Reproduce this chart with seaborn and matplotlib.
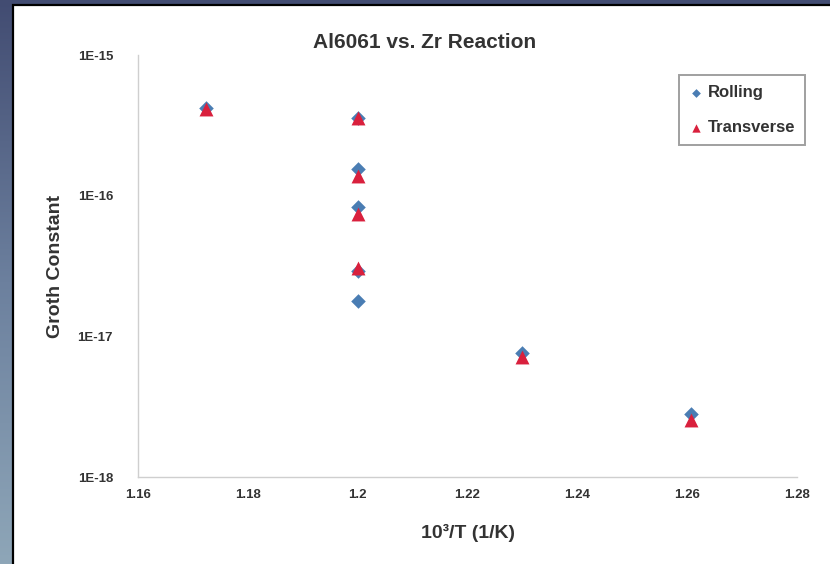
import numpy as np
import pandas as pd
import seaborn as sns
import matplotlib.pyplot as plt
from matplotlib.patches import Rectangle

# valores
rolling_x = [1.1724, 1.2, 1.2, 1.2, 1.2, 1.2, 1.23, 1.2607]
rolling_y = [4.2e-16, 3.55e-16, 1.56e-16, 8.3e-17, 2.9e-17, 1.78e-17, 7.6e-18, 2.8e-18]
transverse_x = [1.1724, 1.2, 1.2, 1.2, 1.2, 1.23, 1.2607]
transverse_y = [4.15e-16, 3.55e-16, 1.39e-16, 7.4e-17, 3.06e-17, 7.1e-18, 2.55e-18]

x_ticks = [1.16, 1.18, 1.20, 1.22, 1.24, 1.26, 1.28]
x_labels = ['1.16', '1.18', '1.2', '1.22', '1.24', '1.26', '1.28']
y_ticks = [1e-18, 1e-17, 1e-16, 1e-15]
y_labels = ['1E-18', '1E-17', '1E-16', '1E-15']

rolling = pd.DataFrame({'x': rolling_x, 'y': rolling_y, 'serie': 'Rolling'})
transverse = pd.DataFrame({'x': transverse_x, 'y': transverse_y, 'serie': 'Transverse'})

sns.set_style('white')
plt.rcParams['font.family'] = ['Liberation Sans', 'DejaVu Sans']

fig = plt.figure(figsize=(8.3, 5.64), dpi=100)

# fundo estilo slide
bg = fig.add_axes([0, 0, 1, 1], zorder=-2)
grad = np.linspace(0, 1, 256).reshape(-1, 1)
cmap = sns.blend_palette(['#424c72', '#6c809e', '#8ea6b8'], as_cmap=True)
bg.imshow(grad, aspect='auto', cmap=cmap, extent=[0, 1, 0, 1])
bg.set_axis_off()
fig.patches.append(Rectangle((13 / 830, -0.01), 1.0, 1 - 5 / 564 + 0.01,
                             transform=fig.transFigure, facecolor='white',
                             edgecolor='black', linewidth=1.6, zorder=-1))

ax = fig.add_axes([138 / 830, 1 - 477 / 564, (797 - 138) / 830, (477 - 55) / 564])
ax.patch.set_alpha(0)
sns.scatterplot(data=rolling, x='x', y='y', color='#4a7db3', marker='D',
                s=55, linewidth=0, label='Rolling', ax=ax)
sns.scatterplot(data=transverse, x='x', y='y', color='#d9203d', marker='^',
                s=100, linewidth=0, label='Transverse', ax=ax)

ax.set_yscale('log')
ax.set_xlim(1.16, 1.28)
ax.set_ylim(1e-18, 1e-15)
ax.set_xticks(x_ticks)
ax.set_xticklabels(x_labels, fontsize=9.5, fontweight='bold', color='#333333')
ax.set_yticks(y_ticks)
ax.set_yticklabels(y_labels, fontsize=9.5, fontweight='bold', color='#333333')
ax.minorticks_off()
ax.tick_params(direction='out', length=4, color='#c0c0c0', width=0.8)
ax.tick_params(axis='y', pad=14)
ax.tick_params(axis='x', pad=5)
for lado in ['top', 'right']:
    ax.spines[lado].set_visible(False)
for lado in ['left', 'bottom']:
    ax.spines[lado].set_color('#cfcfcf')
    ax.spines[lado].set_linewidth(1.0)

fig.text(425 / 830, 1 - 43 / 564, 'Al6061 vs. Zr Reaction', fontsize=15,
         fontweight='bold', color='#333333', ha='center', va='center')
ax.set_xlabel('10³/T (1/K)', fontsize=14, fontweight='bold', color='#333333', labelpad=16)
ax.set_ylabel('Groth Constant', fontsize=14, fontweight='bold', color='#333333', labelpad=10)

leg = ax.legend(loc='upper right', bbox_to_anchor=(805 / 830, 1 - 75 / 564),
                bbox_transform=fig.transFigure, borderaxespad=0, fontsize=12,
                frameon=True, fancybox=False, edgecolor='#888888',
                markerscale=0.6, handletextpad=0.3, borderpad=0.6,
                labelspacing=1.2, handlelength=0.8)
for t in leg.get_texts():
    t.set_fontweight('bold')
    t.set_color('#333333')
leg.get_frame().set_linewidth(1.4)

fig.savefig('out.png', dpi=100)
